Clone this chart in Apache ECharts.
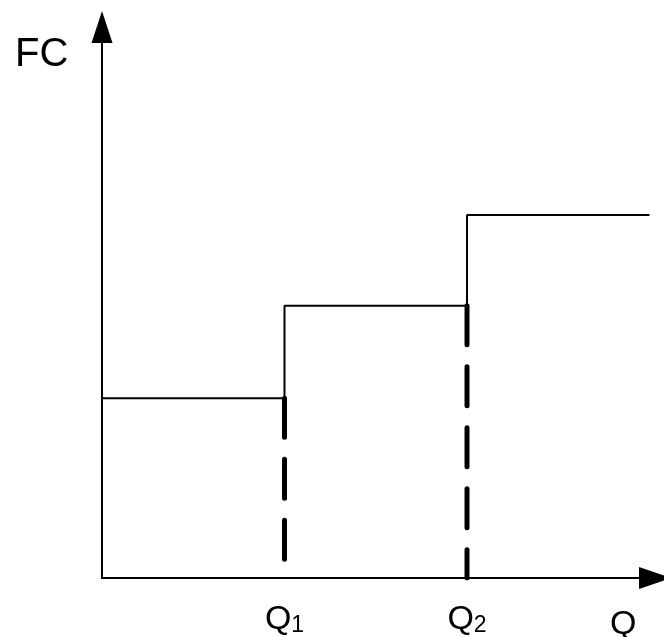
<!DOCTYPE html>
<html>
<head>
<meta charset="utf-8">
<script src="https://cdn.jsdelivr.net/npm/echarts@6/dist/echarts.min.js"></script>
<style>
html, body { margin: 0; padding: 0; background: #fff; }
#chart { width: 664px; height: 637px; }
</style>
</head>
<body>
<div id="chart"></div>
<script>
// Step function of fixed cost (FC) vs quantity (Q)
const stepQ = [0, 1, 2, 3];          // quantity breakpoints (Q1 = 1, Q2 = 2)
const stepFC = [1.98, 3, 4, 4];       // fixed-cost level starting at each breakpoint
const thresholdQ = [1, 2];            // Q1, Q2
const thresholdFC = [1.98, 3];        // level reached just before each jump
const tickLabels = { 1: ['Q', '1'], 2: ['Q', '2'] };
const yAxisName = 'FC';
const xAxisName = 'Q';

const FONT = '"Liberation Sans", Arial, sans-serif';

const chart = echarts.init(document.getElementById('chart'), null, { renderer: 'canvas' });

const stepData = stepQ.map((q, i) => [q, stepFC[i]]);

const dashSeries = thresholdQ.map((q, i) => ({
  type: 'line',
  data: [[q, thresholdFC[i]], [q, 0]],
  symbol: 'none',
  silent: true,
  z: 3,
  lineStyle: { color: '#000', width: 5, type: [39, 22], cap: 'round' }
}));

chart.setOption({
  animation: false,
  backgroundColor: '#fff',
  grid: { left: 102, right: 9, top: 27, bottom: 59, containLabel: false },
  xAxis: {
    type: 'value', min: 0, max: 3.03, interval: 1,
    splitLine: { show: false },
    axisTick: { show: false },
    axisLine: {
      onZero: false,
      symbol: ['none', 'triangle'], symbolSize: [22, 32],
      lineStyle: { color: '#000', width: 2 }
    },
    axisLabel: {
      margin: 25,
      formatter: function (v) {
        const t = tickLabels[Math.round(v)];
        return t && Math.abs(v - Math.round(v)) < 1e-6 ? '{q|' + t[0] + '}{s|' + t[1] + '}' : '';
      },
      rich: {
        q: { fontFamily: FONT, fontSize: 34, color: '#000' },
        s: { fontFamily: FONT, fontSize: 23, color: '#000', verticalAlign: 'bottom' }
      }
    }
  },
  yAxis: {
    type: 'value', min: 0, max: 6.07, interval: 1,
    splitLine: { show: false },
    axisTick: { show: false },
    axisLabel: { show: false },
    axisLine: {
      show: true, onZero: false,
      symbol: ['none', 'triangle'], symbolSize: [21, 32],
      lineStyle: { color: '#000', width: 2 }
    }
  },
  graphic: [
    { type: 'text', left: 15, top: 35, style: { text: yAxisName, font: '40px ' + FONT, fill: '#000' } },
    { type: 'text', left: 610, top: 608, style: { text: xAxisName, font: '34px ' + FONT, fill: '#000' } }
  ],
  series: [
    {
      type: 'line',
      data: stepData,
      step: 'end',
      symbol: 'none',
      silent: true,
      z: 2,
      lineStyle: { color: '#000', width: 2 }
    }
  ].concat(dashSeries)
});
</script>
</body>
</html>
